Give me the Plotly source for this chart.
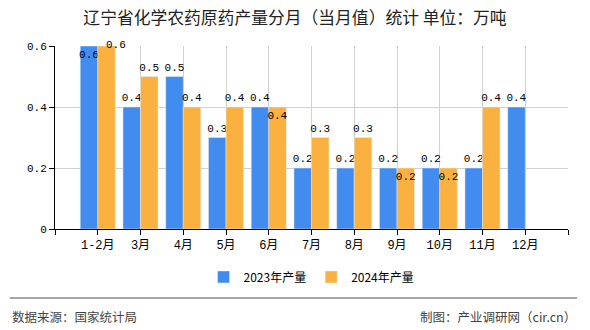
import plotly.graph_objects as go

categories = ["1-2月", "3月", "4月", "5月", "6月", "7月", "8月", "9月", "10月", "11月", "12月"]
values_2023 = [0.6, 0.4, 0.5, 0.3, 0.4, 0.2, 0.2, 0.2, 0.2, 0.2, 0.4]
values_2024 = [0.6, 0.5, 0.4, 0.4, 0.4, 0.3, 0.3, 0.2, 0.2, 0.4, None]
series_names = ["2023年产量", "2024年产量"]
title_text = "辽宁省化学农药原药产量分月（当月值）统计 单位：万吨"
source_text = "数据来源：国家统计局"
credit_text = "制图：产业调研网（cir.cn）"

BLUE = "#418CEE"
ORANGE = "#FBB13F"
MONO = "SimSun, Liberation Mono, Noto Sans CJK SC, monospace"

xs = list(range(len(categories)))

pos_2023 = ["inside" if i == 0 else "outside" for i in xs]
pos_2024 = ["none" if i == 0 else ("inside" if i in (4, 7, 8) else "outside") for i in xs]

def fmt(v):
    return "" if v is None else f"{v:g}"

for name, vals, pos, color in [(series_names[0], values_2023, pos_2023, BLUE),
                               (series_names[1], values_2024, pos_2024, ORANGE)]:
    fig_trace = go.Bar(
        x=xs, y=vals, name=name, marker_color=color,
        text=[fmt(v) for v in vals], textposition=pos, textangle=0,
        insidetextanchor="end", constraintext="none", cliponaxis=False,
        textfont=dict(family=MONO, size=11, color="#000"),
        insidetextfont=dict(family=MONO, size=11, color="#000"),
        outsidetextfont=dict(family=MONO, size=11, color="#000"),
    )
    if name == series_names[0]:
        fig = go.Figure()
    fig.add_trace(fig_trace)

# label of the first 2024 bar sits at the right side of its top
fig.add_annotation(x=xs[0], y=values_2024[0], text=fmt(values_2024[0]),
                   xref="x", yref="y", showarrow=False, xshift=18, yshift=1,
                   font=dict(family=MONO, size=11, color="#000"))

tickvals = [-1] + xs + [len(categories)]
ticktext = [""] + categories + [""]

fig.update_layout(
    width=590, height=330,
    margin=dict(l=55, r=22, t=46, b=101),
    paper_bgcolor="white", plot_bgcolor="white",
    barmode="group", bargap=0.18, bargroupgap=0,
    title=dict(text=title_text, x=0.5, xanchor="center", y=0.945, yanchor="middle",
               font=dict(family="Noto Sans CJK SC", size=16.8, color="#222")),
    showlegend=True,
    legend=dict(orientation="h", x=0.5, xanchor="center", y=-0.262, yanchor="middle",
                font=dict(family="Noto Sans CJK SC", size=12, color="#000"),
                itemwidth=30, traceorder="normal"),
    xaxis=dict(range=[-1, len(categories)], tickmode="array", tickvals=tickvals, ticktext=ticktext,
               showgrid=True, gridcolor="#d0d0d0", gridwidth=1,
               showline=True, linecolor="#000", linewidth=1,
               ticks="outside", ticklen=5, tickcolor="#000",
               tickfont=dict(family=MONO, size=12, color="#000"), zeroline=False, fixedrange=True),
    yaxis=dict(range=[0, 0.6], tickmode="linear", tick0=0, dtick=0.2,
               showgrid=True, gridcolor="#d0d0d0", gridwidth=1,
               showline=True, linecolor="#000", linewidth=1,
               ticks="outside", ticklen=5, tickcolor="#000",
               tickfont=dict(family=MONO, size=11, color="#000"), zeroline=False, fixedrange=True),
)

# footer separator line and texts
fig.add_shape(type="line", xref="paper", yref="paper",
              x0=(10 - 55) / 513, x1=(577 - 55) / 513, y0=(229 - 298) / 183, y1=(229 - 298) / 183,
              line=dict(color="#888", width=1.5))
fig.add_annotation(text=source_text, xref="paper", yref="paper", x=(10 - 55) / 513, y=(229 - 316) / 183,
                   xanchor="left", yanchor="middle", showarrow=False,
                   font=dict(family="Noto Sans CJK SC", size=12.5, color="#444"))
fig.add_annotation(text=credit_text, xref="paper", yref="paper", x=(578 - 55) / 513, y=(229 - 316) / 183,
                   xanchor="right", yanchor="middle", showarrow=False,
                   font=dict(family="Noto Sans CJK SC", size=12.5, color="#444"))

fig.write_html("out.html")
